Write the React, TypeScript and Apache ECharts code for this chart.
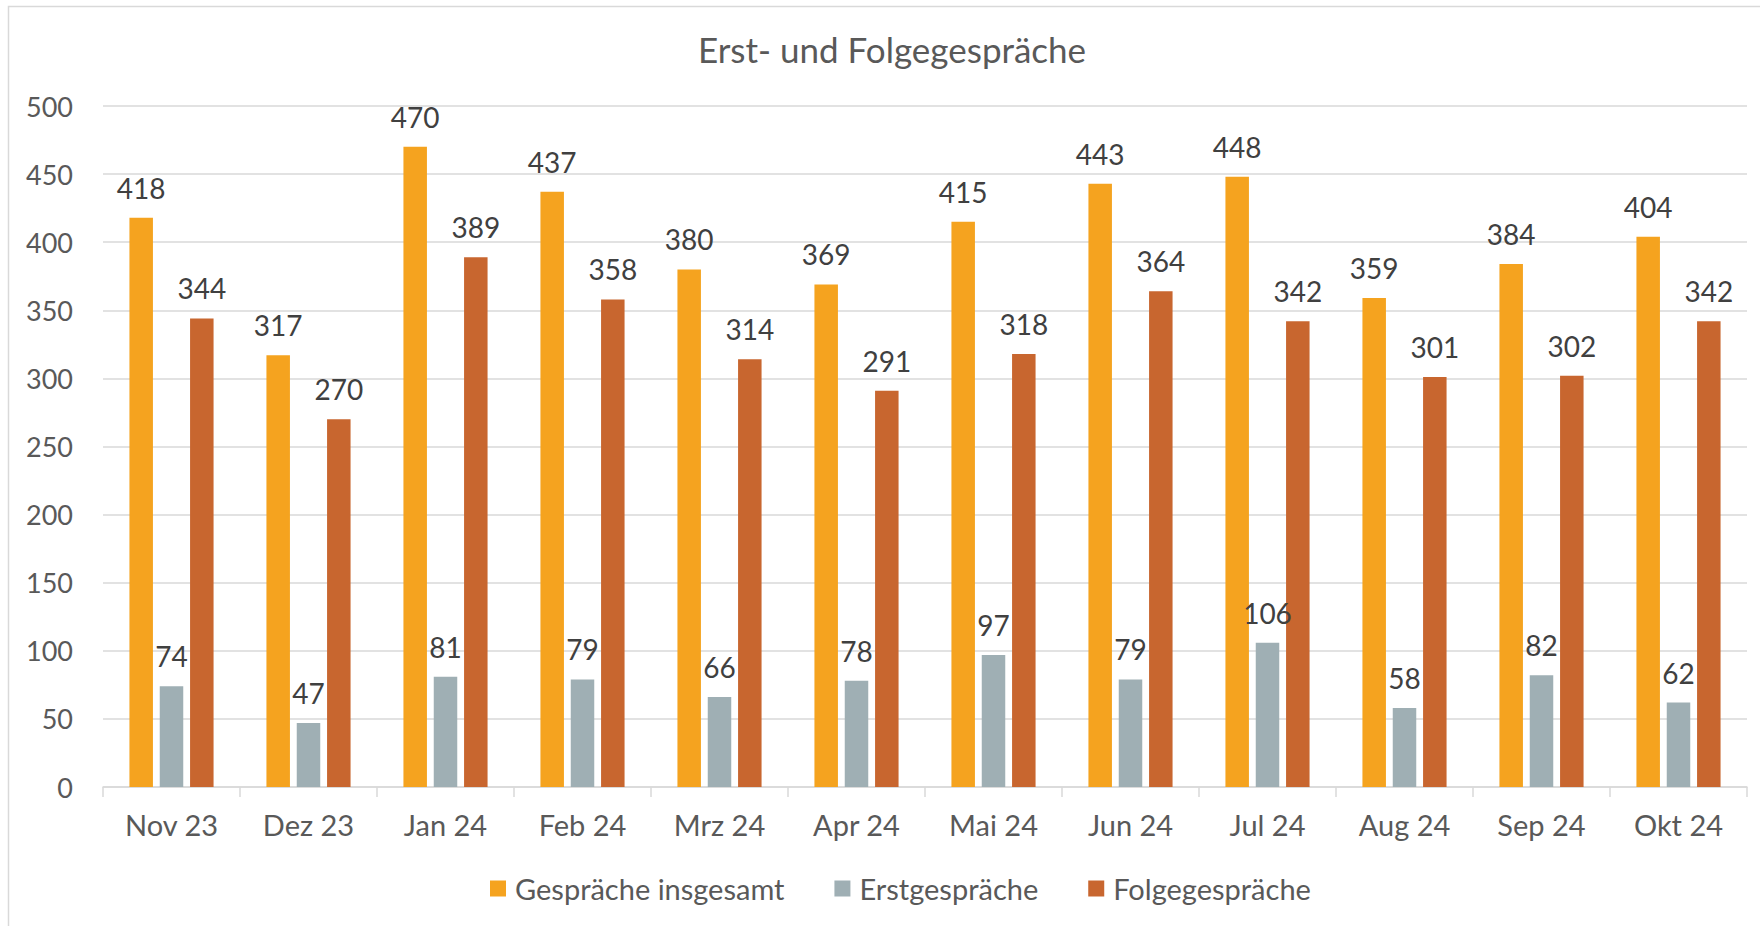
import React, { useEffect, useRef } from "react";
import * as echarts from "echarts";

const categories = ["Nov 23", "Dez 23", "Jan 24", "Feb 24", "Mrz 24", "Apr 24", "Mai 24", "Jun 24", "Jul 24", "Aug 24", "Sep 24", "Okt 24"];
const gesamt = [418, 317, 470, 437, 380, 369, 415, 443, 448, 359, 384, 404];
const erst = [74, 47, 81, 79, 66, 78, 97, 79, 106, 58, 82, 62];
const folge = [344, 270, 389, 358, 314, 291, 318, 364, 342, 301, 302, 342];
const seriesNames = ["Gespräche insgesamt", "Erstgespräche", "Folgegespräche"];
const colors = ["#F5A31F", "#9FAFB4", "#C8662F"];

const FONT = "Lato, 'Open Sans', sans-serif";

export default function App() {
  const ref = useRef<HTMLDivElement>(null);
  useEffect(() => {
    if (!ref.current) return;
    const chart = echarts.init(ref.current, undefined, { renderer: "svg" });
    const dataSets = [gesamt, erst, folge];
    chart.setOption({
      animation: false,
      backgroundColor: "#ffffff",
      textStyle: { fontFamily: FONT },
      title: {
        text: "Erst- und Folgegespräche",
        left: 892,
        textAlign: "center",
        top: 31,
        padding: 0,
        textStyle: { fontFamily: FONT, fontSize: 35, fontWeight: "normal", color: "#595959" },
      },
      legend: {
        left: 490,
        top: 874,
        padding: 0,
        itemWidth: 16,
        itemHeight: 16,
        itemGap: 50,
        icon: "rect",
        textStyle: { fontFamily: FONT, fontSize: 29, color: "#595959", padding: [0, 0, 0, 4] },
        data: seriesNames,
      },
      grid: { left: 103, right: 13, top: 106, bottom: 139, containLabel: false },
      xAxis: {
        type: "category",
        data: categories,
        axisLine: { show: true, lineStyle: { color: "#D9D9D9", width: 1.5 } },
        axisTick: { show: true, length: 10, lineStyle: { color: "#D9D9D9", width: 1.5 } },
        axisLabel: { margin: 23, fontFamily: FONT, fontSize: 29, color: "#595959" },
      },
      yAxis: {
        type: "value",
        min: 0,
        max: 500,
        interval: 50,
        axisLine: { show: false },
        axisTick: { show: false },
        axisLabel: { margin: 30, fontFamily: FONT, fontSize: 27, color: "#595959" },
        splitLine: { lineStyle: { color: "#D9D9D9", width: 1.5 } },
      },
      graphic: [
        {
          type: "rect",
          shape: { x: 8.5, y: 6.5, width: 1800, height: 1000 },
          style: { fill: "none", stroke: "#D9D9D9", lineWidth: 1.5 },
          silent: true,
        },
      ],
      series: seriesNames.map((name, i) => ({
        name,
        type: "bar",
        data: dataSets[i],
        barWidth: 23.5,
        barGap: "29%",
        itemStyle: { color: colors[i] },
        label: {
          show: true,
          position: "top",
          distance: 16,
          fontFamily: FONT,
          fontSize: 28,
          color: "#404040",
        },
      })),
    });
    return () => chart.dispose();
  }, []);
  return (
    <div
      ref={ref}
      style={{ position: "fixed", left: 0, top: 0, width: 1760, height: 926 }}
    />
  );
}
